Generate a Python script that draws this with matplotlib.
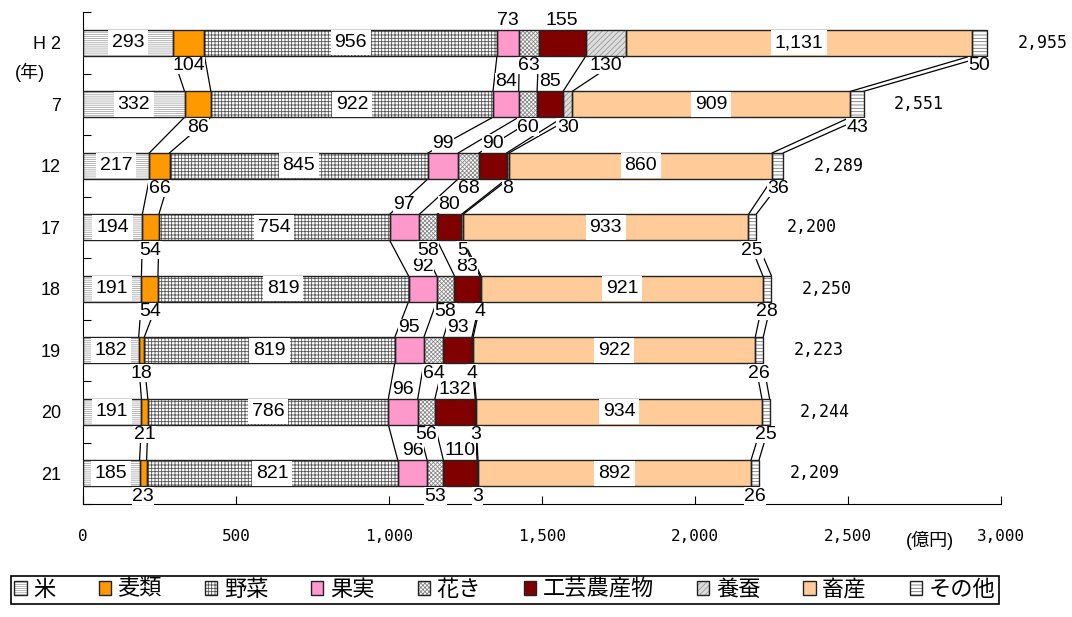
import numpy as np
import matplotlib.pyplot as plt
from matplotlib.patches import Patch

plt.rcParams['font.family'] = ['Liberation Sans', 'Noto Sans CJK JP']
plt.rcParams['hatch.linewidth'] = 0.6

MONO = ['DejaVu Sans Mono']

# 農業産出額の推移（億円）
years = ['H 2', '7', '12', '17', '18', '19', '20', '21']
items = ['米', '麦類', '野菜', '果実', '花き', '工芸農産物', '養蚕', '畜産', 'その他']

kome = [293, 332, 217, 194, 191, 182, 191, 185]
mugi = [104, 86, 66, 54, 54, 18, 21, 23]
yasai = [956, 922, 845, 754, 819, 819, 786, 821]
kajitsu = [73, 84, 99, 97, 92, 95, 96, 96]
kaki = [63, 60, 68, 58, 58, 64, 56, 53]
kougei = [155, 85, 90, 80, 83, 93, 132, 110]
yousan = [130, 30, 8, 5, 4, 4, 3, 3]
chikusan = [1131, 909, 860, 933, 921, 922, 934, 892]
sonota = [50, 43, 36, 25, 28, 26, 25, 26]
totals = [2955, 2551, 2289, 2200, 2250, 2223, 2244, 2209]

series = [kome, mugi, yasai, kajitsu, kaki, kougei, yousan, chikusan, sonota]

# 塗り, ハッチ, ハッチ色, ラベル位置
styles = [
    ('white', '--------', '#aaaaaa', 'in'),
    ('#FF9900', None, '#FF9900', 'below'),
    ('white', '+++++', '#555555', 'in'),
    ('#FF99CC', None, '#FF99CC', 'above'),
    ('white', 'xxxxxxxx', '#888888', 'below'),
    ('#800000', None, '#800000', 'above'),
    ('#dddddd', '//////', '#999999', 'below'),
    ('#FFCC99', None, '#FFCC99', 'in'),
    ('white', '-----', '#777777', 'below'),
]

fig = plt.figure(figsize=(10.72, 6.17), dpi=100)
ax = fig.add_axes([0.0774, 0.1831, 0.8563, 0.7974])

y = np.arange(len(years))
h = 0.42
off = 0.16
left = np.zeros(len(years))
edges = []
handles = []
for vals, (face, hatch, hcol, pos) in zip(series, styles):
    v = np.array(vals, dtype=float)
    ax.barh(y, v, left=left, height=h, color=face, hatch=hatch,
            edgecolor=hcol, linewidth=0, zorder=2)
    ax.barh(y, v, left=left, height=h, fill=False,
            edgecolor='#222222', linewidth=1, zorder=3)
    for i in range(len(years)):
        xc = left[i] + v[i] / 2
        txt = f'{int(v[i]):,}'
        if pos == 'in':
            ax.text(xc, y[i], txt, ha='center', va='center', fontsize=14,
                    bbox=dict(boxstyle='square,pad=0.2', fc='white', ec='none'),
                    zorder=5)
        elif pos == 'above':
            ax.text(xc, y[i] - h / 2 - off, txt, ha='center', va='center',
                    fontsize=14, zorder=5,
                    bbox=dict(boxstyle='square,pad=0.02', fc='white', ec='none'))
        else:
            ax.text(xc, y[i] + h / 2 + off, txt, ha='center', va='center',
                    fontsize=14, zorder=5,
                    bbox=dict(boxstyle='square,pad=0.02', fc='white', ec='none'))
    left = left + v
    edges.append(left.copy())
    handles.append((Patch(facecolor=face, hatch=hatch, edgecolor=hcol, linewidth=0),
                    Patch(fill=False, edgecolor='#222222', linewidth=1)))

# 区分線
for e in edges:
    for i in range(len(years) - 1):
        ax.plot([e[i], e[i + 1]], [y[i] + h / 2, y[i + 1] - h / 2],
                color='black', lw=0.9, zorder=1.5)

# 合計
for i, t in enumerate(totals):
    ax.text(t + 100, y[i], f'{t:,}', ha='left', va='center',
            fontsize=12, family=MONO, clip_on=False)

ax.set_xlim(0, 3000)
ax.set_ylim(len(years) - 0.5, -0.5)
ax.spines['top'].set_visible(False)
ax.spines['right'].set_visible(False)

ax.set_yticks(np.arange(-0.5, len(years), 1))
ax.set_yticklabels([])
ax.set_yticks(y, minor=True)
ax.set_yticklabels(years, minor=True, fontsize=13)
ax.tick_params(axis='y', which='major', direction='in', length=6)
ax.tick_params(axis='y', which='minor', length=0, pad=16)

xt = np.arange(0, 3001, 500)
ax.set_xticks(xt)
ax.set_xticklabels([f'{v:,}' for v in xt], fontsize=11.5, family=MONO)
ax.tick_params(axis='x', direction='in', length=6, pad=18)

ax.text(-0.058, 0.878, '(年)', transform=ax.transAxes, ha='center',
        va='center', fontsize=13)
ax.text(0.923, -0.073, '(億円)', transform=ax.transAxes, ha='center',
        va='center', fontsize=13)

leg = fig.legend(handles, items, loc='lower left',
                 bbox_to_anchor=(0.0, 0.003, 0.942, 0.052), mode='expand',
                 ncol=9, fontsize=16, fancybox=False, edgecolor='black',
                 handlelength=0.55, handleheight=0.55, handletextpad=0.3,
                 borderpad=0.15, columnspacing=1.0, framealpha=1)
leg.get_frame().set_linewidth(1.2)

fig.savefig('out.png', dpi=100)
